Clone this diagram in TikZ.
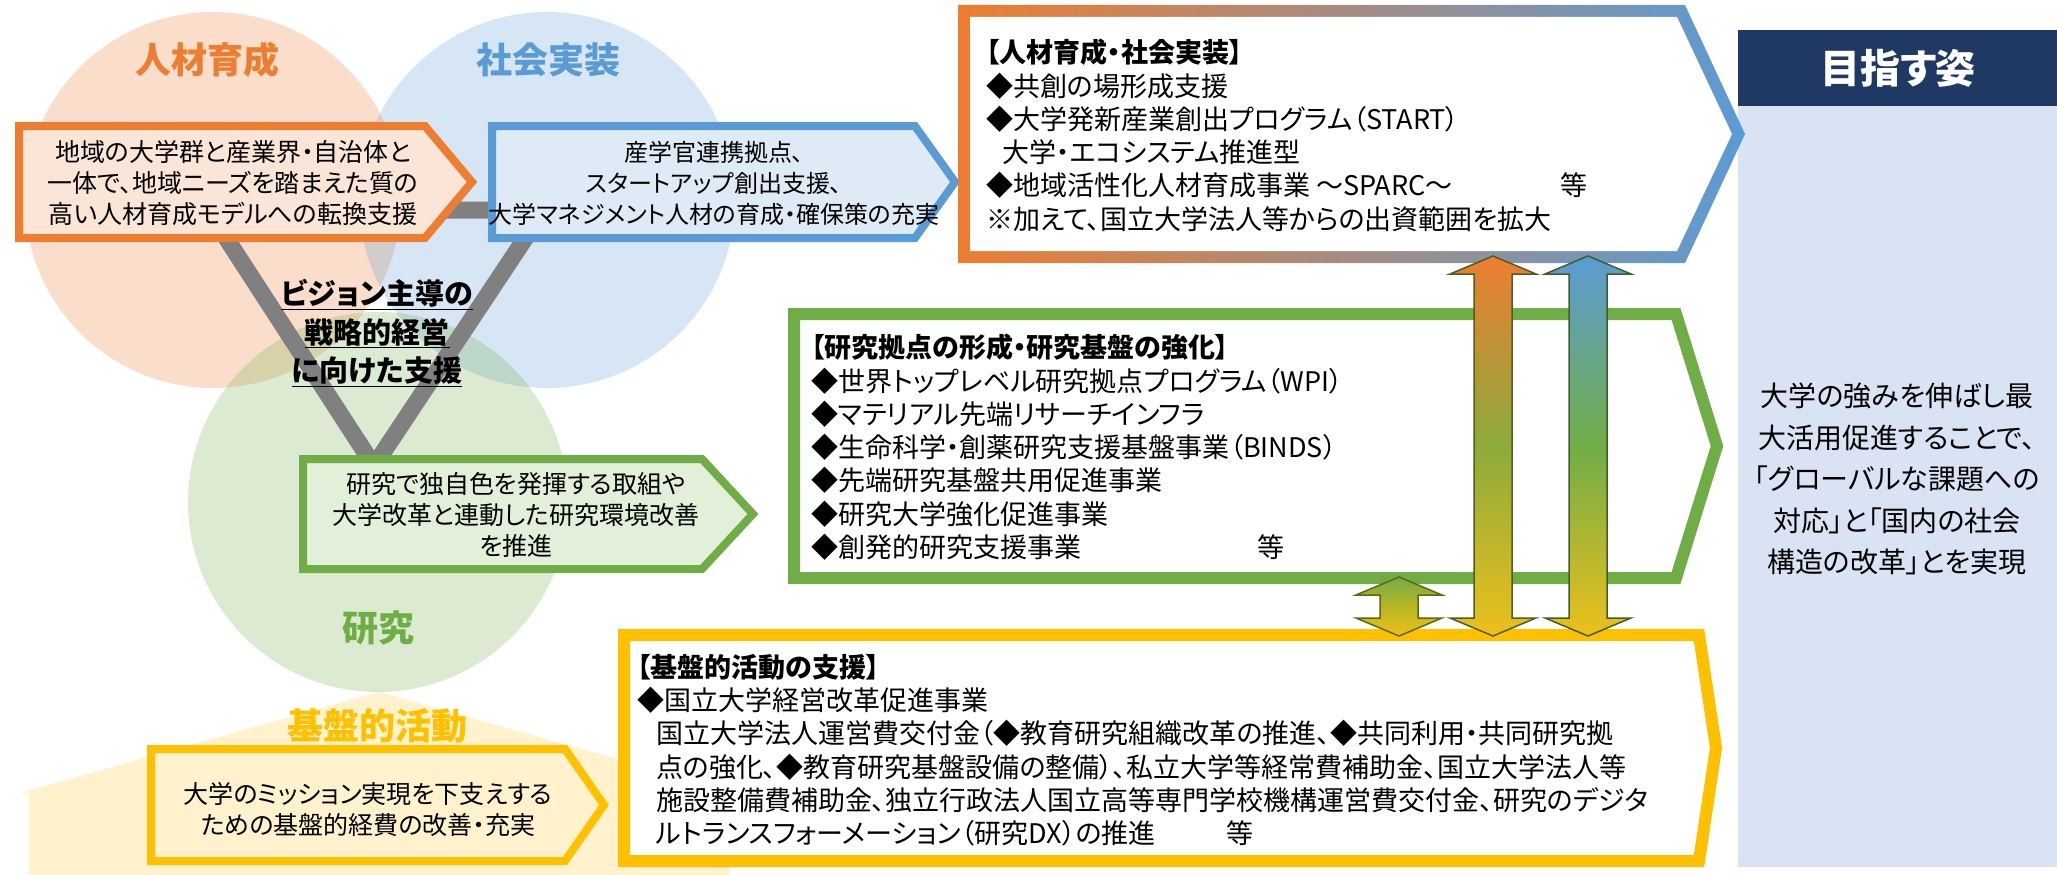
\documentclass[tikz,border=0pt]{standalone}
\usepackage{fontspec}
\setmainfont{Noto Sans CJK JP}[RawFeature=+palt]
\usetikzlibrary{calc}

\definecolor{orangeC}{HTML}{ED7D31}
\definecolor{blueC}{HTML}{5B9BD5}
\definecolor{greenC}{HTML}{70AD47}
\definecolor{yellowC}{HTML}{FFC000}
\definecolor{navyC}{HTML}{203864}
\definecolor{panelC}{HTML}{DAE3F3}
\definecolor{grayC}{HTML}{808080}
\definecolor{orangeF}{HTML}{FBE5D6}
\definecolor{blueF}{HTML}{DEEBF7}
\definecolor{greenF}{HTML}{E2F0D9}
\definecolor{yellowF}{HTML}{FFF2CC}
\definecolor{oliveC}{HTML}{8DAA3C}
\definecolor{goldC}{HTML}{EDC01C}

% double block arrow between two named points
\newcommand{\vdblarrow}[3]{%
  \shadedraw[#3] (#1) -- ++(43,18) -- ++(-24,0) -- ($(#2)+(19,-18)$) -- ++(24,0)
    -- (#2) -- ++(-43,-18) -- ++(24,0) -- ($(#1)+(-19,18)$) -- ++(-24,0) -- cycle;}

\begin{document}
\begin{tikzpicture}[x=1pt, y=-1pt,
    circ/.style={fill=#1, fill opacity=0.25},
    circlabel/.style={text=#1, font=\bfseries\fontsize{36}{40}\selectfont},
    smallbox/.style 2 args={draw=#1, fill=#2, line width=8pt},
    bigbox/.style={draw=#1, fill=white, line width=12pt},
    boxtext/.style={align=center, inner sep=0pt, font=\fontsize{25}{31}\selectfont},
    listtext/.style={align=left, anchor=north west, inner sep=0pt, font=\fontsize{27}{33.3}\selectfont},
    arrowshade/.style n args={3}{top color=#1, bottom color=#3, middle color=#2, draw=#2!55!black, line width=1.5pt}]
    \useasboundingbox (0,0) rectangle (2057,875);

    % goal panel
    \fill[panelC] (1738,106) rectangle (2057,867);
    \fill[navyC] (1738,30) rectangle (2057,106);
    \node[text=white, font=\bfseries\fontsize{40}{44}\selectfont] (goal) at (1898,68) {目指す姿};
    \node[align=center, font=\fontsize{28}{41.5}\selectfont] (goaltext) at (1897,479)
        {大学の強みを伸ばし最\\大活用促進することで、\\「グローバルな課題への\\対応」と「国内の社会\\構造の改革」とを実現};

    % base activity house and circles
    \fill[yellowF] (379,692) -- (738,793) -- (729,793) -- (729,875) -- (29,875) -- (29,793) -- (20,793) -- cycle;
    \fill[circ=orangeC] (213,200) circle[radius=188pt];
    \fill[circ=blueC] (547,200) circle[radius=188pt];
    \fill[circ=greenC] (378,502) circle[radius=190pt];

    \node[circlabel=orangeC] (hr) at (207,60) {人材育成};
    \node[circlabel=blueC] (impl) at (548,60) {社会実装};
    \node[circlabel=greenC] (res) at (378,628) {研究};
    \node[circlabel=yellowC] (base) at (377,726) {基盤的活動};

    % vision triangle
    \coordinate (vl) at (208,210);
    \coordinate (vr) at (544,210);
    \coordinate (vb) at (374,466);
    \draw[grayC, line width=17pt] (vl) -- (vr) -- (vb) -- cycle;
    \node[align=center, font=\bfseries\fontsize{29}{38.5}\selectfont] (vision) at (377,333)
        {\underline{ビジョン主導の}\\\underline{戦略的経営}\\\underline{に向けた支援}};

    % small boxes
    \draw[smallbox={orangeC}{orangeF}] (19,126) -- (425,126) -- (472,182) -- (425,238) -- (19,238) -- cycle;
    \node[boxtext] (hrtext) at (233,183) {地域の大学群と産業界・自治体と\\一体で、地域ニーズを踏まえた質の\\高い人材育成モデルへの転換支援};

    \draw[smallbox={blueC}{blueF}] (492,126) -- (915,126) -- (955,182) -- (915,238) -- (492,238) -- cycle;
    \node[boxtext, font=\fontsize{24}{31}\selectfont] (impltext) at (714,183) {産学官連携拠点、\\スタートアップ創出支援、\\大学マネジメント人材の育成・確保策の充実};

    \draw[smallbox={greenC}{greenF}] (303,459) -- (702,459) -- (753,514) -- (702,569) -- (303,569) -- cycle;
    \node[boxtext] (restext) at (516,515) {研究で独自色を発揮する取組や\\大学改革と連動した研究環境改善\\を推進};

    \draw[smallbox={yellowC}{yellowF}] (151,749) -- (565,749) -- (604,805) -- (565,861) -- (151,861) -- cycle;
    \node[boxtext] (basetext) at (368,809) {大学のミッション実現を下支えする\\ための基盤的経費の改善・充実};

    % big boxes
    \shade[left color=orangeC, right color=blueC] (958,5) -- (1685,5) -- (1745,134) -- (1685,263) -- (958,263) -- cycle;
    \fill[white] (970,17) -- (1677,17) -- (1732,134) -- (1677,251) -- (970,251) -- cycle;
    \node[listtext] (hrlist) at (986,39)
        {{\bfseries 【人材育成・社会実装】}\\
         ◆共創の場形成支援\\
         ◆大学発新産業創出プログラム（START）\\
         \hspace{0.6em}大学・エコシステム推進型\\
         \makebox[574pt][l]{◆地域活性化人材育成事業 ～SPARC～}等\\
         ※加えて、国立大学法人等からの出資範囲を拡大};

    \draw[bigbox=greenC] (794,314) -- (1676,314) -- (1717,446) -- (1676,578) -- (794,578) -- cycle;
    \node[listtext] (reslist) at (811,334)
        {{\bfseries 【研究拠点の形成・研究基盤の強化】}\\
         ◆世界トップレベル研究拠点プログラム（WPI）\\
         ◆マテリアル先端リサーチインフラ\\
         ◆生命科学・創薬研究支援基盤事業（BINDS）\\
         ◆先端研究基盤共用促進事業\\
         ◆研究大学強化促進事業\\
         \makebox[446pt][l]{◆創発的研究支援事業}等};

    \draw[bigbox=yellowC] (624,635) -- (1699,635) -- (1716,748) -- (1699,861) -- (624,861) -- cycle;
    \node[listtext] (baselist) at (637,654)
        {{\bfseries 【基盤的活動の支援】}\\
         ◆国立大学経営改革促進事業\\
         \hspace{0.7em}国立大学法人運営費交付金（◆教育研究組織改革の推進、◆共同利用・共同研究拠\\
         \hspace{0.7em}点の強化、◆教育研究基盤設備の整備）、私立大学等経常費補助金、国立大学法人等\\
         \hspace{0.7em}施設整備費補助金、独立行政法人国立高等専門学校機構運営費交付金、研究のデジタ\\
         \hspace{0.7em}\makebox[570pt][l]{ルトランスフォーメーション（研究DX）の推進}等};

    % arrows between the boxes
    \coordinate (a1t) at (1493,256);
    \coordinate (a1b) at (1493,636);
    \coordinate (a2t) at (1588,256);
    \coordinate (a2b) at (1588,636);
    \coordinate (a3t) at (1399,577);
    \coordinate (a3b) at (1399,636);
    \vdblarrow{a1t}{a1b}{arrowshade={orangeC}{oliveC}{goldC}}
    \vdblarrow{a2t}{a2b}{arrowshade={blueC}{greenC}{goldC}}
    \vdblarrow{a3t}{a3b}{arrowshade={greenC}{yellowC!50!greenC}{goldC}}
\end{tikzpicture}
\end{document}
